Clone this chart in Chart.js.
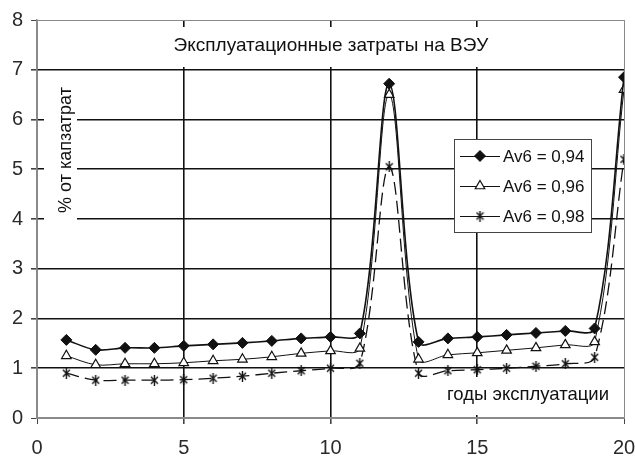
<!DOCTYPE html>
<html lang="ru">
<head>
<meta charset="utf-8">
<title>Эксплуатационные затраты на ВЭУ</title>
<script src="https://cdn.jsdelivr.net/npm/chart.js@4/dist/chart.umd.min.js"></script>
<style>
  html, body { margin: 0; padding: 0; background: #fff; }
  #wrap { width: 635px; height: 457px; }
</style>
</head>
<body>
<div id="wrap"><canvas id="costChart" width="635" height="457"></canvas></div>
<script>
// years of operation
const years = [1, 2, 3, 4, 5, 6, 7, 8, 9, 10, 11, 12, 13, 14, 15, 16, 17, 18, 19, 20];

// operating costs, % of capital cost, per availability level
const costAv094 = [1.57, 1.37, 1.41, 1.41, 1.45, 1.48, 1.51, 1.55, 1.60, 1.63, 1.70, 6.72, 1.53, 1.60, 1.63, 1.67, 1.71, 1.75, 1.80, 6.85];
const costAv096 = [1.25, 1.07, 1.09, 1.09, 1.11, 1.15, 1.18, 1.23, 1.30, 1.35, 1.40, 6.50, 1.18, 1.27, 1.31, 1.36, 1.41, 1.47, 1.53, 6.60];
const costAv098 = [0.90, 0.76, 0.76, 0.76, 0.77, 0.80, 0.84, 0.90, 0.95, 1.00, 1.10, 5.05, 0.90, 0.95, 0.97, 1.00, 1.04, 1.09, 1.22, 5.20];

const seriesLabels = ['Av6 = 0,94', 'Av6 = 0,96', 'Av6 = 0,98'];
const xTicks = [0, 5, 10, 15, 20];
const yTicks = [0, 1, 2, 3, 4, 5, 6, 7, 8];

const chartTitle = 'Эксплуатационные затраты на ВЭУ';
const yTitle = '% от капзатрат';
const xTitle = 'годы эксплуатации';

const FONT = '"Liberation Sans", Arial, sans-serif';
const INK = '#111';
const FRAME = '#8a8a8a';

// "X with a vertical bar" marker
function makeStarMarker() {
  const c = document.createElement('canvas');
  c.width = 9;
  c.height = 11;
  const g = c.getContext('2d');
  g.strokeStyle = INK;
  g.lineWidth = 1.4;
  g.beginPath();
  g.moveTo(1, 2); g.lineTo(8, 9);
  g.moveTo(8, 2); g.lineTo(1, 9);
  g.moveTo(4.5, 0); g.lineTo(4.5, 11);
  g.stroke();
  return c;
}
const starMarker = makeStarMarker();

function toPoints(values) {
  return years.map((x, i) => ({ x: x, y: values[i] }));
}

// white boxes with the chart captions, drawn over the grid
const captionPlugin = {
  id: 'captions',
  beforeDatasetsDraw(chart) {
    const ctx = chart.ctx;
    ctx.save();
    ctx.fillStyle = '#fff';
    ctx.fillRect(150, 27, 370, 40);
    ctx.fillRect(44, 76, 33, 148);
    ctx.fillRect(430, 377, 190, 38);

    ctx.fillStyle = INK;
    ctx.textBaseline = 'middle';
    ctx.textAlign = 'center';
    ctx.font = '19px ' + FONT;
    ctx.fillText(chartTitle, 331, 46);
    ctx.font = '18.5px ' + FONT;
    ctx.fillText(xTitle, 528, 395);

    ctx.translate(66, 150);
    ctx.rotate(-Math.PI / 2);
    ctx.font = '18px ' + FONT;
    ctx.fillText(yTitle, 0, 0);
    ctx.restore();
  }
};

// boxed legend inside the plot area
const boxLegendPlugin = {
  id: 'boxLegend',
  afterDatasetsDraw(chart) {
    const ctx = chart.ctx;
    const box = { x: 454, y: 139, w: 137, h: 93 };
    ctx.save();
    ctx.fillStyle = '#fff';
    ctx.fillRect(box.x, box.y, box.w, box.h);
    ctx.strokeStyle = '#444';
    ctx.lineWidth = 1;
    ctx.strokeRect(box.x + 0.5, box.y + 0.5, box.w, box.h);

    ctx.font = '17px ' + FONT;
    ctx.textBaseline = 'middle';
    ctx.textAlign = 'left';
    const rows = [156, 186, 216];
    chart.data.datasets.forEach((ds, i) => {
      const y = rows[i];
      ctx.strokeStyle = INK;
      ctx.lineWidth = 1;
      ctx.setLineDash([]);
      ctx.beginPath();
      ctx.moveTo(460, y + 0.5);
      ctx.lineTo(500, y + 0.5);
      ctx.stroke();
      ctx.fillStyle = ds.pointBackgroundColor;
      ctx.strokeStyle = ds.pointBorderColor;
      ctx.lineWidth = ds.pointBorderWidth;
      Chart.helpers.drawPoint(ctx, {
        pointStyle: ds.pointStyle,
        radius: ds.pointRadius,
        borderWidth: ds.pointBorderWidth,
        rotation: 0
      }, 480, y);
      ctx.fillStyle = INK;
      ctx.fillText(ds.label, 503, y + 1);
    });
    ctx.restore();
  }
};

const ctx = document.getElementById('costChart');
new Chart(ctx, {
  type: 'line',
  data: {
    datasets: [
      {
        label: seriesLabels[0],
        data: toPoints(costAv094),
        borderColor: INK,
        borderWidth: 1.6,
        pointStyle: 'rectRot',
        pointRadius: 5.5,
        pointBackgroundColor: INK,
        pointBorderColor: INK,
        pointBorderWidth: 1,
        tension: 0.33
      },
      {
        label: seriesLabels[1],
        data: toPoints(costAv096),
        borderColor: INK,
        borderWidth: 1,
        pointStyle: 'triangle',
        pointRadius: 5.5,
        pointBackgroundColor: '#fff',
        pointBorderColor: INK,
        pointBorderWidth: 1.2,
        tension: 0.33
      },
      {
        label: seriesLabels[2],
        data: toPoints(costAv098),
        borderColor: INK,
        borderWidth: 1.3,
        borderDash: [13, 6],
        pointStyle: starMarker,
        pointRadius: 5,
        pointBackgroundColor: INK,
        pointBorderColor: INK,
        pointBorderWidth: 1,
        tension: 0.33
      }
    ]
  },
  plugins: [captionPlugin, boxLegendPlugin],
  options: {
    responsive: false,
    animation: false,
    events: [],
    layout: {
      padding: { top: 20, right: 11, left: 0, bottom: 0 }
    },
    plugins: {
      legend: { display: false },
      tooltip: { enabled: false },
      title: { display: false }
    },
    scales: {
      x: {
        type: 'linear',
        min: 0,
        max: 20,
        afterBuildTicks(scale) {
          scale.ticks = xTicks.map((v) => ({ value: v }));
        },
        afterFit(scale) {
          scale.height = 39;
          scale.paddingLeft = 0;
          scale.paddingRight = 0;
        },
        grid: {
          color: (c) => (c.tick.value === 0 || c.tick.value === 20 ? FRAME : INK),
          lineWidth: (c) => (c.tick.value === 0 || c.tick.value === 20 ? 1 : 1.6),
          tickColor: '#444',
          tickLength: 6,
          drawTicks: true
        },
        border: { color: FRAME, width: 1.5 },
        ticks: {
          color: '#2a2a2a',
          padding: 12,
          maxRotation: 0,
          font: { family: FONT, size: 20 }
        }
      },
      y: {
        min: 0,
        max: 8,
        afterBuildTicks(scale) {
          scale.ticks = yTicks.map((v) => ({ value: v }));
        },
        afterFit(scale) {
          scale.width = 37;
          scale.paddingTop = 0;
          scale.paddingBottom = 0;
        },
        grid: {
          color: (c) => (c.tick.value === 0 || c.tick.value === 8 ? FRAME : INK),
          lineWidth: (c) => (c.tick.value === 0 || c.tick.value === 8 ? 1 : 1.6),
          tickColor: '#444',
          tickLength: 6
        },
        border: { color: FRAME, width: 1.5 },
        ticks: {
          color: '#2a2a2a',
          padding: 8,
          font: { family: FONT, size: 20 }
        }
      }
    }
  }
});
</script>
</body>
</html>
